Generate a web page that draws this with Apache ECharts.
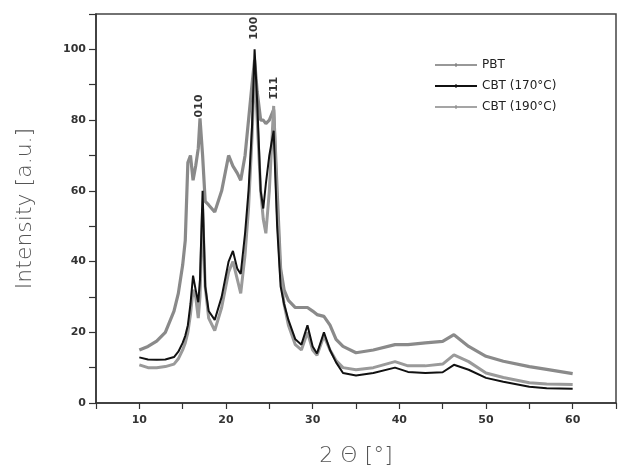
<!DOCTYPE html>
<html>
<head>
<meta charset="utf-8">
<script src="https://cdn.jsdelivr.net/npm/echarts@6/dist/echarts.min.js"></script>
<style>html,body{margin:0;padding:0;background:#fff}#c{width:619px;height:476px}</style>
</head>
<body>
<div id="c"></div>
<script>
// 2θ angles (degrees)
const angles = [10, 11, 12, 13, 14, 14.5, 15, 15.3, 15.6, 15.9, 16.2, 16.5, 16.8, 17.0, 17.3, 17.6, 18.0, 18.7, 19.5, 20.3, 20.8, 21.3, 21.7, 22.2, 22.6, 23.0, 23.3, 23.6, 24.0, 24.3, 24.6, 25.0, 25.5, 25.9, 26.3, 26.7, 27.2, 28.0, 28.7, 29.4, 30.0, 30.5, 31.3, 32.0, 32.7, 33.5, 35, 37, 39.5, 41, 43, 45, 46.3, 48, 50, 52, 55, 57, 60];
// Intensity [a.u.]
const pbt     = [15, 16, 17.5, 20, 26, 31, 39, 46, 68, 70, 63, 67, 72, 80.5, 70, 57, 56, 54, 60, 70, 67, 65, 63, 70, 80, 90, 97, 88, 80, 80, 79, 80, 83, 60, 38, 32, 29, 27, 27, 27, 26, 25, 24.5, 22, 18, 16, 14.2, 15, 16.5, 16.5, 17, 17.4, 19.3, 16, 13.2, 11.8, 10.3, 9.5, 8.3];
const cbt170  = [12.9, 12.3, 12.2, 12.3, 13, 14.5, 17, 19, 22, 28, 36, 32, 28.5, 35, 60, 33, 26, 23.5, 30, 40, 43, 38, 36.5, 48, 60, 78, 100, 85, 60, 55, 62, 70, 77, 50, 33, 28, 23.5, 18, 16.5, 22, 16, 14, 20, 15, 11.5, 8.5, 7.8, 8.5, 10, 8.8, 8.5, 8.7, 10.8, 9.4, 7.1, 6, 4.6, 4.2, 4];
const cbt190  = [10.8, 10, 10, 10.3, 11, 12.5, 15, 17, 20, 25, 32, 30, 24, 30, 55, 33, 24, 20.5, 27, 37, 40, 35, 31, 42, 55, 75, 95, 80, 60, 52, 48, 60, 84, 55, 36, 28, 22, 16.5, 15, 20, 15, 13.5, 19, 15, 12, 10, 9.4, 10, 11.7, 10.5, 10.5, 11, 13.6, 11.7, 8.5, 7.2, 5.7, 5.4, 5.2];
const seriesNames = ['PBT', 'CBT (170\u00B0C)', 'CBT (190\u00B0C)'];
// peak annotations: [label, 2θ, intensity]
const peakLabels = [['010', 16.9, 84], ['100', 23.3, 106], ['1\u030511', 25.6, 89]];
const xTicks = [10, 20, 30, 40, 50, 60];
const yTicks = [0, 20, 40, 60, 80, 100];

const pair = arr => angles.map((a, i) => [a, arr[i]]);
const chart = echarts.init(document.getElementById('c'));
const lbl = {fontFamily: 'DejaVu Sans', fontSize: 11, fontWeight: 'bold', color: '#333'};
const thinIcon = 'path://M0,2.2h40v1.2h-40z M19.5,1h1v3.6h-1z';
const thickIcon = 'path://M0,1.8h40v2h-40z M19.5,0.8h1v4h-1z';
chart.setOption({
  animation: false,
  backgroundColor: '#fff',
  grid: {left: 96, right: 1, top: 14, bottom: 73, show: true, borderColor: '#444', borderWidth: 1.5},
  legend: {
    orient: 'vertical', left: 430, top: 54, itemWidth: 42, itemHeight: 14, itemGap: 9,
    data: [
      {name: seriesNames[0], icon: thinIcon, itemStyle: {color: '#777'}},
      {name: seriesNames[1], icon: thickIcon, itemStyle: {color: '#111'}},
      {name: seriesNames[2], icon: thinIcon, itemStyle: {color: '#888'}}
    ],
    textStyle: {fontFamily: 'DejaVu Sans', fontSize: 12, color: '#222'}
  },
  xAxis: {
    type: 'value', min: 5, max: 65, interval: 5,
    axisLine: {lineStyle: {color: '#333', width: 1.5}},
    axisTick: {length: 6, lineStyle: {color: '#333', width: 1.2}},
    splitLine: {show: false},
    axisLabel: Object.assign({margin: 12, formatter: v => xTicks.includes(v) ? String(v) : ''}, lbl),
    name: '2 \u0398 [\u00B0]', nameLocation: 'middle', nameGap: 42,
    nameTextStyle: {fontFamily: 'DejaVu Sans', fontSize: 22, color: '#555', fontWeight: 'lighter'}
  },
  yAxis: {
    type: 'value', min: 0, max: 110, interval: 10,
    axisLine: {show: true, lineStyle: {color: '#333', width: 1.5}},
    axisTick: {show: true, length: 7, lineStyle: {color: '#333', width: 1.2}},
    splitLine: {show: false},
    axisLabel: Object.assign({margin: 10, formatter: v => yTicks.includes(v) ? String(v) : ''}, lbl),
    name: 'Intensity [a.u.]', nameLocation: 'middle', nameGap: 60,
    nameTextStyle: {fontFamily: 'DejaVu Sans', fontSize: 22, color: '#555', fontWeight: 'lighter'}
  },
  series: [
    {name: seriesNames[0], type: 'line', data: pair(pbt), symbol: 'none', color: '#8a8a8a',
     lineStyle: {width: 3.2, color: '#8a8a8a'}},
    {name: seriesNames[2], type: 'line', data: pair(cbt190), symbol: 'none', color: '#9a9a9a',
     lineStyle: {width: 3, color: '#9a9a9a'}},
    {name: seriesNames[1], type: 'line', data: pair(cbt170), symbol: 'none', color: '#111',
     lineStyle: {width: 2, color: '#111'},
     markPoint: {
       symbol: 'circle', symbolSize: 0,
       data: peakLabels.map(p => ({coord: [p[1], p[2]], value: p[0]})),
       label: {show: true, formatter: p => p.value, rotate: 90, position: 'inside',
               fontFamily: 'DejaVu Sans', fontSize: 11, fontWeight: 'bold', color: '#333'}
     }}
  ]
});
</script>
</body>
</html>
